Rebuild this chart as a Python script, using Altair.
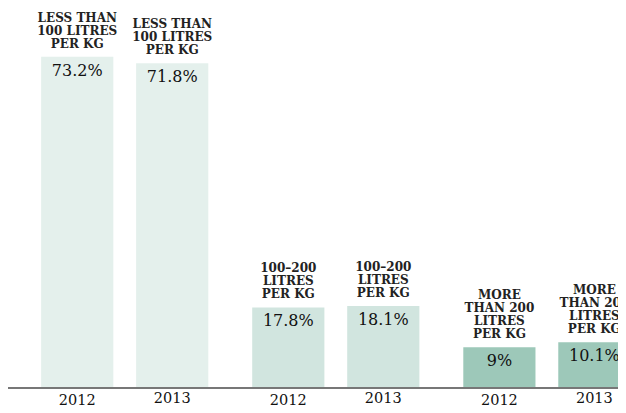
import altair as alt
import pandas as pd

groups = ["lt100", "100to200", "gt200"]
group_labels = [
    "LESS THAN\n100 LITRES\nPER KG",
    "100–200\nLITRES\nPER KG",
    "MORE\nTHAN 200\nLITRES\nPER KG",
]
years = ["2012", "2013"]
values_2012 = [73.2, 17.8, 9]
values_2013 = [71.8, 18.1, 10.1]
colors = ["#e4f0ec", "#d1e5df", "#9dc8b9"]

rows = []
for g, lab, v12, v13 in zip(groups, group_labels, values_2012, values_2013):
    for y, v in zip(years, [v12, v13]):
        rows.append({"group": g, "label": lab, "year": y, "value": v,
                     "pct": f"{v:g}%", "zero": 0,
                     "nlines": lab.count("\n") + 1})
df = pd.DataFrame(rows)

FONT = "DejaVu Serif, Liberation Serif, serif"
W, H = 610, 380

x = alt.X("group:N", sort=groups, axis=None,
          scale=alt.Scale(range=[0, 655.6], paddingInner=0.1, paddingOuter=0.103))
xo = alt.XOffset("year:N", sort=years,
                 scale=alt.Scale(paddingInner=0.24, paddingOuter=0.12))
yq = alt.Y("value:Q", axis=None, scale=alt.Scale(domain=[0, 84]))
y0 = alt.Y("zero:Q", axis=None, scale=alt.Scale(domain=[0, 84]))

base = alt.Chart(df)

bars = base.mark_bar(clip=True).encode(
    x=x, xOffset=xo, y=yq,
    color=alt.Color("group:N", sort=groups, legend=None,
                    scale=alt.Scale(domain=groups, range=colors)),
)

def cat_layer(n, dy):
    return base.transform_filter(alt.datum.nlines == n).mark_text(
        clip=True, font=FONT, fontSize=12, fontWeight="bold",
        baseline="top", dy=dy, lineBreak="\n", lineHeight=13,
        color="#222").encode(x=x, xOffset=xo, y=yq, text="label:N")

cat3 = cat_layer(3, -44)
cat4 = cat_layer(4, -57)

pct = base.mark_text(clip=True, font=FONT, fontSize=16, baseline="top", dy=6,
                     color="#111").encode(
    x=x, xOffset=xo, y=yq, text="pct:N")

yr12 = base.transform_filter(alt.datum.year == "2012").mark_text(
    font=FONT, fontSize=14.5, baseline="middle", dy=12.5, color="#111").encode(
    x=x, xOffset=xo, y=y0, text="year:N")
yr13 = base.transform_filter(alt.datum.year == "2013").mark_text(
    font=FONT, fontSize=14.5, baseline="middle", dy=10.5, color="#111").encode(
    x=x, xOffset=xo, y=y0, text="year:N")

axis_line = base.mark_rule(color="#777", strokeWidth=2).encode(y=y0)

chart = alt.layer(bars, cat3, cat4, pct, yr12, yr13, axis_line).properties(
    width=W, height=H, background="white",
    autosize=alt.AutoSizeParams(type="none"),
    padding={"left": 0, "top": 0, "right": 0, "bottom": 17},
).configure_view(stroke=None)

chart.save("out.html", embed_options={"renderer": "svg", "actions": False})
